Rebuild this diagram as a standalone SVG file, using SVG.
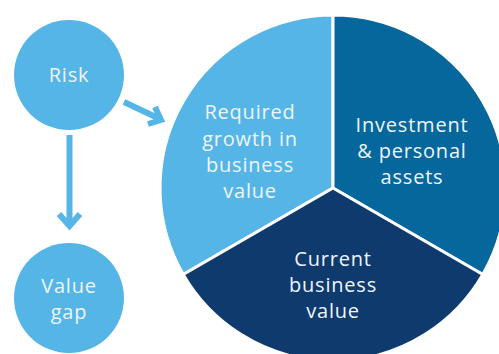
<svg xmlns="http://www.w3.org/2000/svg" width="499" height="354" viewBox="0 0 499 354">
<style>
.t{font-family:"Open Sans","Noto Sans","DejaVu Sans",sans-serif;font-size:20px;fill:#eef6fb;text-anchor:middle;letter-spacing:0.8px}
.sec{stroke:#ffffff;stroke-width:3;stroke-linejoin:miter}
.arr{fill:none;stroke:#55b5e6;stroke-width:6}
</style>
<rect width="499" height="354" fill="#ffffff"/>
<g id="connectors">
  <line class="arr" x1="69.5" y1="135" x2="69.5" y2="226"/>
  <polyline class="arr" points="59,214 69.5,226 80,214"/>
  <line class="arr" x1="124" y1="102" x2="160" y2="119"/>
  <polyline class="arr" points="155,107 161,120 148,124"/>
</g>
<g id="node-risk">
  <circle cx="69" cy="75" r="55" fill="#55b5e6"/>
  <text class="t" x="69" y="82">Risk</text>
</g>
<g id="node-value-gap">
  <circle cx="69" cy="298" r="55" fill="#55b5e6"/>
  <text class="t" x="69" y="293">Value</text>
  <text class="t" x="69" y="319">gap</text>
</g>
<g id="node-required-growth">
  <path class="sec" fill="#55b5e6" d="M333,188 L333,15 A173,173 0 0 0 183.2,274.5 Z"/>
  <text class="t" x="250" y="119">Required</text>
  <text class="t" x="250" y="146">growth in</text>
  <text class="t" x="250" y="172">business</text>
  <text class="t" x="250" y="198">value</text>
</g>
<g id="node-investment">
  <path class="sec" fill="#05679c" d="M333,188 L333,15 A173,173 0 0 1 482.8,274.5 Z"/>
  <text class="t" x="412" y="132">Investment</text>
  <text class="t" x="412" y="158">&amp; personal</text>
  <text class="t" x="412" y="184">assets</text>
</g>
<g id="node-current">
  <path class="sec" fill="#0f3a6d" d="M333,188 L482.8,274.5 A173,173 0 0 1 183.2,274.5 Z"/>
  <text class="t" x="333" y="266">Current</text>
  <text class="t" x="333" y="292">business</text>
  <text class="t" x="333" y="318">value</text>
</g>
</svg>
